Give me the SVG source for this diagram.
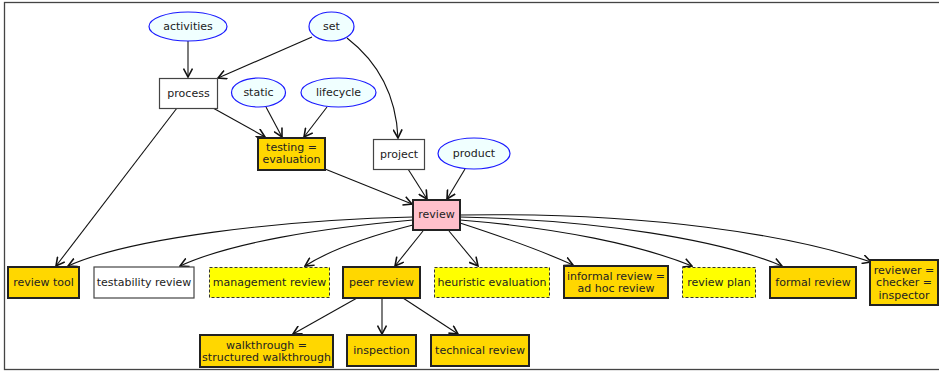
<svg xmlns="http://www.w3.org/2000/svg" width="939" height="371" viewBox="0 0 939 371">
<style>
text{font-family:"DejaVu Sans","Liberation Sans",sans-serif;font-size:11px;fill:#222;text-anchor:middle;dominant-baseline:central}
.ell{fill:#F0FFFF;stroke:#1a1aff;stroke-width:1.2}
.plain{fill:#fff;stroke:#444;stroke-width:1.2}
.gold{fill:#FFD700;stroke:#222;stroke-width:2}
.pink{fill:#FFC0CB;stroke:#222;stroke-width:2}
.dash{fill:#FFFF00;stroke:#333;stroke-width:1;stroke-dasharray:3,2}
.e{fill:none;stroke:#111;stroke-width:1.1;marker-end:url(#arr)}
</style>
<defs>
<marker id="arr" viewBox="0 0 10 10" refX="9" refY="5" markerWidth="10" markerHeight="10" markerUnits="userSpaceOnUse" orient="auto">
<path d="M0.5,0.5 L9,5 L0.5,9.5" fill="none" stroke="#111" stroke-width="1.6"/>
</marker>
</defs>
<rect x="4.5" y="2.5" width="940" height="367" fill="#fff" stroke="#444" stroke-width="1.3"/>
<g id="connectors">
<path class="e" d="M188,41 L188,77"/>
<path class="e" d="M312,37 L218,78"/>
<path class="e" d="M347,38 C378,62 396,95 398,138"/>
<path class="e" d="M213,108 L265,137"/>
<path class="e" d="M266,107 L282,137"/>
<path class="e" d="M327,107 L304,137"/>
<path class="e" d="M177,108 L56,266"/>
<path class="e" d="M325,169 L412,204"/>
<path class="e" d="M408,169 L427,199"/>
<path class="e" d="M465,169 L447,199"/>
<path class="e" d="M413,217 C280,220 130,238 68,266"/>
<path class="e" d="M413,220 C320,228 230,243 180,266"/>
<path class="e" d="M413,225 C370,236 330,250 305,266"/>
<path class="e" d="M423,231 L395,266"/>
<path class="e" d="M449,231 L478,266"/>
<path class="e" d="M460,223 C500,236 540,250 573,265"/>
<path class="e" d="M460,220 C560,228 640,245 692,266"/>
<path class="e" d="M460,217 C600,220 720,240 782,266"/>
<path class="e" d="M460,215 C650,212 790,235 871,262"/>
<path class="e" d="M357,298 L293,334"/>
<path class="e" d="M382,298 L382,334"/>
<path class="e" d="M403,298 L458,334"/>
</g>
<g id="activities"><ellipse class="ell" cx="188" cy="26.5" rx="39" ry="14.5"/><text x="188" y="26.5">activities</text></g>
<g id="set"><ellipse class="ell" cx="331.5" cy="26.5" rx="22.5" ry="14.5"/><text x="331.5" y="26.5">set</text></g>
<g id="process"><rect class="plain" x="159.5" y="78.5" width="58" height="30"/><text x="188.5" y="93">process</text></g>
<g id="static"><ellipse class="ell" cx="258.5" cy="92.5" rx="27" ry="14.5"/><text x="258.5" y="92.5">static</text></g>
<g id="lifecycle"><ellipse class="ell" cx="338.5" cy="92.5" rx="37.5" ry="14.5"/><text x="338.5" y="92.5">lifecycle</text></g>
<g id="testing"><rect class="gold" x="258" y="138" width="67" height="32"/><text x="291.5" y="147.5">testing =</text><text x="291.5" y="159.5">evaluation</text></g>
<g id="project"><rect class="plain" x="373.5" y="139.5" width="51" height="30"/><text x="399" y="154">project</text></g>
<g id="product"><ellipse class="ell" cx="474" cy="153.5" rx="36" ry="15.5"/><text x="474" y="153.5">product</text></g>
<g id="review"><rect class="pink" x="413" y="200" width="47" height="30"/><text x="436.5" y="214.5">review</text></g>
<g id="review-tool"><rect class="gold" x="8" y="267" width="71" height="31"/><text x="43.5" y="282">review tool</text></g>
<g id="testability-review"><rect class="plain" x="94" y="267" width="100" height="31"/><text x="144" y="282">testability review</text></g>
<g id="management-review"><rect class="dash" x="209.5" y="267.5" width="120" height="30"/><text x="269.5" y="282">management review</text></g>
<g id="peer-review"><rect class="gold" x="343" y="267" width="77" height="31"/><text x="381.5" y="282">peer review</text></g>
<g id="heuristic-evaluation"><rect class="dash" x="434.5" y="267.5" width="115" height="30"/><text x="492" y="282">heuristic evaluation</text></g>
<g id="informal-review"><rect class="gold" x="564" y="266" width="104" height="32"/><text x="616" y="276">informal review =</text><text x="616" y="288">ad hoc review</text></g>
<g id="review-plan"><rect class="dash" x="682.5" y="267.5" width="73" height="30"/><text x="719" y="282">review plan</text></g>
<g id="formal-review"><rect class="gold" x="770" y="267" width="86" height="31"/><text x="813" y="282">formal review</text></g>
<g id="reviewer"><rect class="gold" x="870" y="260" width="68" height="45"/><text x="904" y="270">reviewer =</text><text x="904" y="282.5">checker =</text><text x="904" y="295">inspector</text></g>
<g id="walkthrough"><rect class="gold" x="200" y="335" width="133" height="32"/><text x="266.5" y="345">walkthrough =</text><text x="266.5" y="357">structured walkthrough</text></g>
<g id="inspection"><rect class="gold" x="347" y="335" width="69" height="31"/><text x="381.5" y="350.5">inspection</text></g>
<g id="technical-review"><rect class="gold" x="431" y="335" width="98" height="31"/><text x="480" y="350.5">technical review</text></g>
</svg>
